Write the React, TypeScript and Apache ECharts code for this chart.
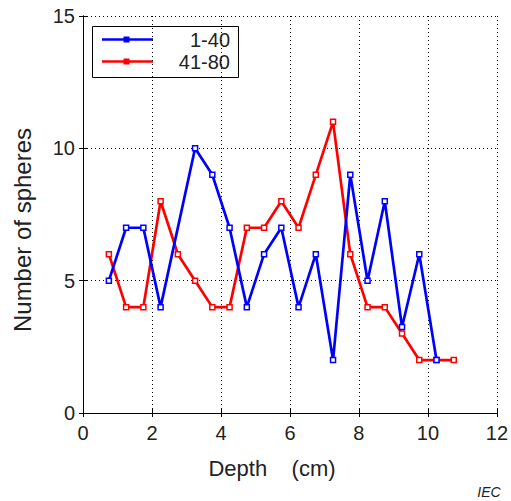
import React, { useEffect, useRef } from "react";
import * as echarts from "echarts";

const blueDepth = [0.75, 1.25, 1.75, 2.25, 3.25, 3.75, 4.25, 4.75, 5.25, 5.75, 6.25, 6.75, 7.25, 7.75, 8.25, 8.75, 9.25, 9.75, 10.25];
const blueCount = [5, 7, 7, 4, 10, 9, 7, 4, 6, 7, 4, 6, 2, 9, 5, 8, 3.25, 6, 2];
const redDepth = [0.75, 1.25, 1.75, 2.25, 2.75, 3.25, 3.75, 4.25, 4.75, 5.25, 5.75, 6.25, 6.75, 7.25, 7.75, 8.25, 8.75, 9.25, 9.75, 10.25, 10.75];
const redCount = [6, 4, 4, 8, 6, 5, 4, 4, 7, 7, 8, 7, 9, 11, 6, 4, 4, 3, 2, 2, 2];
const seriesNames = ["1-40", "41-80"];
const xTicks = { min: 0, max: 12, interval: 2 };
const yTicks = { min: 0, max: 15, interval: 5 };

const FONT = "Liberation Sans, Arial, sans-serif";
const TXT = "#222";

export default function App() {
  const ref = useRef<HTMLDivElement>(null);
  useEffect(() => {
    if (!ref.current) return;
    const chart = echarts.init(ref.current, undefined, { renderer: "svg" });
    const grid = { left: 83, right: 12, top: 16, bottom: 88 };
    const axisCommon = {
      axisLine: { show: true, lineStyle: { color: "#000", width: 1 } },
      axisTick: { show: true, inside: true, length: 4, lineStyle: { color: "#000" } },
    };
    const mk = (name: string, xs: number[], ys: number[], color: string) => ({
      name,
      type: "line",
      data: xs.map((x, i) => [x, ys[i]]),
      symbol: "rect",
      symbolSize: 5,
      showAllSymbol: true,
      lineStyle: { color, width: 2.7 },
      itemStyle: { color: "#fff", borderColor: color, borderWidth: 1.5 },
      z: color === "#0000ff" ? 3 : 2,
    });
    chart.setOption({
      animation: false,
      grid,
      xAxis: [
        {
          type: "value",
          ...xTicks,
          ...axisCommon,
          axisLabel: { fontSize: 20, color: TXT, fontFamily: FONT, margin: 10 },
          splitLine: { show: true, lineStyle: { type: [1, 3], color: "#000", width: 1 } },
        },
        {
          type: "value",
          position: "top",
          ...xTicks,
          ...axisCommon,
          axisLabel: { show: false },
          splitLine: { show: false },
        },
      ],
      yAxis: [
        {
          type: "value",
          ...yTicks,
          ...axisCommon,
          axisLabel: { fontSize: 20, color: TXT, fontFamily: FONT, margin: 8 },
          splitLine: { show: true, lineStyle: { type: [1, 3], color: "#000", width: 1 } },
        },
        {
          type: "value",
          position: "right",
          ...yTicks,
          ...axisCommon,
          axisLabel: { show: false },
          splitLine: { show: false },
        },
      ],
      series: [
        mk(seriesNames[1], redDepth, redCount, "#ff0000"),
        mk(seriesNames[0], blueDepth, blueCount, "#0000ff"),
      ],
      graphic: [
        {
          type: "text",
          x: 272,
          y: 468,
          style: { text: "Depth    (cm)", fontSize: 22, fontFamily: FONT, fill: TXT, align: "center", verticalAlign: "middle" },
        },
        {
          type: "text",
          x: 22,
          y: 230,
          rotation: Math.PI / 2,
          style: { text: "Number of spheres", fontSize: 24, fontFamily: FONT, fill: TXT, align: "center", verticalAlign: "middle" },
        },
        {
          type: "text",
          x: 489,
          y: 492,
          style: { text: "IEC", fontSize: 14, fontStyle: "italic", fontFamily: FONT, fill: TXT, align: "center", verticalAlign: "middle" },
        },
        {
          type: "group",
          z: 100,
          children: [
            { type: "rect", shape: { x: 92.5, y: 26.5, width: 146, height: 51 }, style: { fill: "#fff", stroke: "#000", lineWidth: 1 } },
            { type: "line", shape: { x1: 102, y1: 39.5, x2: 153, y2: 39.5 }, style: { stroke: "#0000ff", lineWidth: 2.5 } },
            { type: "rect", shape: { x: 123.5, y: 36.5, width: 6, height: 6 }, style: { fill: "#0000ff" } },
            { type: "text", x: 230, y: 40, style: { text: seriesNames[0], fontSize: 20, fontFamily: FONT, fill: TXT, align: "right", verticalAlign: "middle" } },
            { type: "line", shape: { x1: 102, y1: 61.5, x2: 153, y2: 61.5 }, style: { stroke: "#ff0000", lineWidth: 2.5 } },
            { type: "rect", shape: { x: 123.5, y: 58.5, width: 6, height: 6 }, style: { fill: "#ff0000" } },
            { type: "text", x: 230, y: 62, style: { text: seriesNames[1], fontSize: 20, fontFamily: FONT, fill: TXT, align: "right", verticalAlign: "middle" } },
          ],
        },
      ],
    });
    return () => chart.dispose();
  }, []);
  return (
    <div
      ref={ref}
      style={{ position: "fixed", left: 0, top: 0, width: 511, height: 501, background: "#fff" }}
    />
  );
}
